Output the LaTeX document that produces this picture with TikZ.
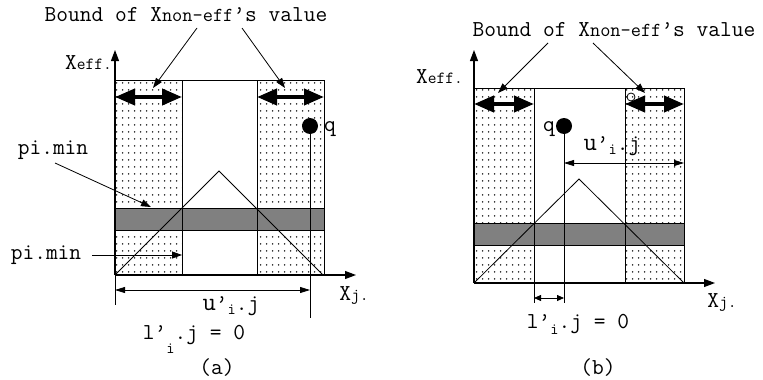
\documentclass[tikz,border=0pt]{standalone}
\usepackage{fontspec}
\usetikzlibrary{arrows.meta,patterns.meta}
\tikzdeclarepattern{name=sparsedots, type=uncolored, bounding box={(0,0) and (6pt,7pt)}, tile size={(6pt,7pt)}, code={\fill (3pt,3.5pt) circle (0.95pt);}}
\newcommand{\bigf}{\ttfamily\fontsize{22.8}{24}\selectfont}
\newcommand{\midf}{\fontsize{17}{18}\selectfont}
\newcommand{\smallf}{\fontsize{16}{16}\selectfont}
\tikzset{
  lbl/.style={inner sep=0pt, font=\bigf},
  dotfill/.style={pattern=sparsedots, pattern color=black!85},
  band/.style={fill=black!50, draw=black, line width=1pt},
  frame/.style={draw=black, line width=1pt},
  axis/.style={line width=1.1pt, -{Triangle[length=11pt,width=8pt]}},
  thin/.style={line width=0.8pt},
  ptr/.style={line width=0.8pt, -{Triangle[length=10pt,width=7pt]}},
  dim/.style={line width=0.8pt, {Triangle[length=10pt,width=6pt]}-{Triangle[length=10pt,width=6pt]}},
  sdim/.style={line width=0.8pt, {Triangle[length=7pt,width=6pt]}-{Triangle[length=7pt,width=6pt]}},
  fat/.style={line width=4pt, {Triangle[length=20pt,width=16pt]}-{Triangle[length=20pt,width=16pt]}},
}
\begin{document}
\begin{tikzpicture}[x=1pt,y=-1pt]
\useasboundingbox (0,0) rectangle (763,380);
% ================= panel (a) =================
\fill[dotfill] (115,80) rectangle (182,275);
\fill[dotfill] (257,80) rectangle (324,275);
\draw[band] (115,208) rectangle (324,230);
\draw[frame] (115,80) rectangle (324,275);
\draw[frame] (182,80) -- (182,275);
\draw[frame] (257,80) -- (257,275);
\draw[thin] (115,275) -- (219,171) -- (323,275);
\draw[axis] (115,275) -- (115,50);
\draw[axis] (115,275) -- (356,275);
\draw[thin] (115,275) -- (115,305);
\node[circle, fill=black, inner sep=0pt, minimum size=16pt] (qa) at (310,126) {};
\coordinate (qaf) at (310,318);
\draw[thin] (qa.center) -- (qaf);
\coordinate (ua1) at (115,290);
\coordinate (ua2) at (310,290);
\draw[dim] (ua1) -- (ua2);
\coordinate (fa1) at (115,97); \coordinate (fa2) at (182,97);
\coordinate (fa3) at (257,97); \coordinate (fa4) at (324,97);
\draw[fat] (fa1) -- (fa2);
\draw[fat] (fa3) -- (fa4);
\node[lbl] (ta) at (186,15) {Bound of X{\fontsize{19.8}{20}\selectfont non-eff}’s value};
\coordinate (ta1) at (197,28); \coordinate (ta2) at (242,28);
\coordinate (ha1) at (153,88); \coordinate (ha2) at (285,88);
\draw[ptr] (ta1) -- (ha1);
\draw[ptr] (ta2) -- (ha2);
\node[lbl, anchor=east] (xea) at (112,63) {X{\midf eff.}};
\node[lbl, anchor=west] (qla) at (324,129) {q};
\node[lbl] (pa1) at (53,150) {pi.min};
\coordinate (pa1s) at (55,163); \coordinate (pa1e) at (151,207);
\draw[ptr] (pa1s) -- (pa1e);
\node[lbl] (pa2) at (46,255) {pi.min};
\coordinate (pa2s) at (92,255); \coordinate (pa2e) at (182,255);
\draw[ptr] (pa2s) -- (pa2e);
\node[lbl] (xja) at (354,295) {X{\midf j.}};
\node[lbl] (ula) at (231,306) {{\fontsize{26}{26}\selectfont u}’\raisebox{-4pt}{\smallf i}.j};
\node[lbl] (lla) at (194,339) {l’\raisebox{-14pt}{\smallf i}.j = 0};
\node[lbl] (capa) at (217,368) {(a)};
% ================= panel (b) =================
\fill[dotfill] (474,88) rectangle (534,283);
\fill[dotfill] (625,88) rectangle (684,283);
\draw[band] (474,223) rectangle (684,245);
\draw[frame] (474,88) rectangle (684,283);
\draw[frame] (534,88) -- (534,303);
\draw[frame] (625,88) -- (625,283);
\draw[thin] (474,283) -- (579,179) -- (684,283);
\draw[axis] (474,283) -- (474,50);
\draw[axis] (474,283) -- (715,283);
\node[circle, fill=black, inner sep=0pt, minimum size=16pt] (qb) at (564,126) {};
\coordinate (qbf) at (564,303);
\draw[thin] (qb.center) -- (qbf);
\coordinate (ub1) at (564,163); \coordinate (ub2) at (684,163);
\draw[dim] (ub1) -- (ub2);
\coordinate (lb1) at (534,298); \coordinate (lb2) at (564,298);
\draw[sdim] (lb1) -- (lb2);
\coordinate (fb1) at (474,104); \coordinate (fb2) at (534,104);
\coordinate (fb3) at (625,104); \coordinate (fb4) at (684,104);
\draw[fat] (fb1) -- (fb2);
\draw[fat] (fb3) -- (fb4);
\node[circle, draw=black, thin, inner sep=0pt, minimum size=8pt] (ob) at (631,97) {};
\node[lbl] (tb) at (614,30) {Bound of X{\fontsize{19.8}{20}\selectfont non-eff}’s value};
\coordinate (tb1) at (548,43); \coordinate (tb2) at (593,43);
\coordinate (hb1) at (498,93); \coordinate (hb2) at (645,93);
\draw[ptr] (tb1) -- (hb1);
\draw[ptr] (tb2) -- (hb2);
\node[lbl, anchor=east] (xeb) at (463,77) {X{\midf eff.}};
\node[lbl, anchor=east] (qlb) at (555,129) {q};
\node[lbl] (xjb) at (722,302) {X{\midf j.}};
\node[lbl] (ulb) at (612,146) {{\fontsize{26}{26}\selectfont u}’\raisebox{-4pt}{\smallf i}.j};
\node[lbl] (llb) at (578,324) {l’\raisebox{-6pt}{\smallf i}.j = 0};
\node[lbl] (capb) at (598,368) {(b)};
\end{tikzpicture}
\end{document}
